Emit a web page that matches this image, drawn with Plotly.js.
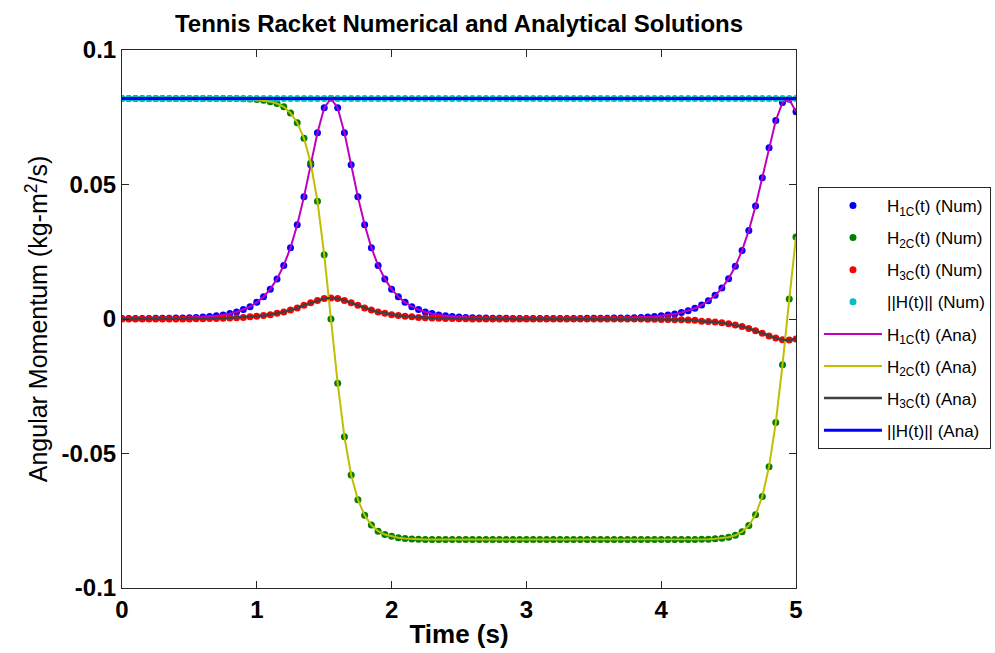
<!DOCTYPE html>
<html>
<head>
<meta charset="utf-8">
<script src="https://cdn.plot.ly/plotly-3.0.1.min.js"></script>
<style>html,body{margin:0;padding:0;background:#fff;}#chart{width:995px;height:653px;}</style>
</head>
<body>
<div id="chart"></div>
<script>
// Time samples (s)
const time = [0.00,0.05,0.10,0.15,0.20,0.25,0.30,0.35,0.40,0.45,
0.50,0.55,0.60,0.65,0.70,0.75,0.80,0.85,0.90,0.95,
1.00,1.05,1.10,1.15,1.20,1.25,1.30,1.35,1.40,1.45,
1.50,1.55,1.60,1.65,1.70,1.75,1.80,1.85,1.90,1.95,
2.00,2.05,2.10,2.15,2.20,2.25,2.30,2.35,2.40,2.45,
2.50,2.55,2.60,2.65,2.70,2.75,2.80,2.85,2.90,2.95,
3.00,3.05,3.10,3.15,3.20,3.25,3.30,3.35,3.40,3.45,
3.50,3.55,3.60,3.65,3.70,3.75,3.80,3.85,3.90,3.95,
4.00,4.05,4.10,4.15,4.20,4.25,4.30,4.35,4.40,4.45,
4.50,4.55,4.60,4.65,4.70,4.75,4.80,4.85,4.90,4.95,
5.00];

// H1C(t)
const h1 = [0.0002,0.0002,0.0002,0.0002,0.0002,0.0003,0.0003,0.0003,0.0004,0.0004,
0.0005,0.0006,0.0007,0.0009,0.0012,0.0015,0.0020,0.0026,0.0035,0.0046,
0.0062,0.0083,0.0111,0.0149,0.0199,0.0265,0.0350,0.0454,0.0573,0.0692,
0.0785,0.0820,0.0785,0.0692,0.0573,0.0454,0.0350,0.0265,0.0199,0.0149,
0.0111,0.0083,0.0062,0.0046,0.0035,0.0026,0.0020,0.0015,0.0012,0.0009,
0.0007,0.0006,0.0005,0.0004,0.0004,0.0003,0.0003,0.0003,0.0002,0.0002,
0.0002,0.0002,0.0002,0.0002,0.0002,0.0002,0.0002,0.0002,0.0002,0.0003,
0.0003,0.0003,0.0003,0.0004,0.0004,0.0004,0.0005,0.0006,0.0007,0.0009,
0.0012,0.0015,0.0019,0.0024,0.0031,0.0040,0.0052,0.0068,0.0088,0.0115,
0.0150,0.0196,0.0255,0.0329,0.0420,0.0525,0.0637,0.0738,0.0805,0.0817,
0.0770];

// H2C(t)
const h2 = [0.0820,0.0820,0.0820,0.0820,0.0820,0.0820,0.0820,0.0820,0.0820,0.0820,
0.0820,0.0820,0.0820,0.0820,0.0820,0.0820,0.0820,0.0820,0.0819,0.0818,
0.0816,0.0813,0.0808,0.0801,0.0789,0.0766,0.0730,0.0672,0.0580,0.0438,
0.0239,0.0000,-0.0239,-0.0438,-0.0580,-0.0672,-0.0730,-0.0766,-0.0789,-0.0801,
-0.0808,-0.0813,-0.0816,-0.0818,-0.0819,-0.0820,-0.0820,-0.0820,-0.0820,-0.0820,
-0.0820,-0.0820,-0.0820,-0.0820,-0.0820,-0.0820,-0.0820,-0.0820,-0.0820,-0.0820,
-0.0820,-0.0820,-0.0820,-0.0820,-0.0820,-0.0820,-0.0820,-0.0820,-0.0820,-0.0820,
-0.0820,-0.0820,-0.0820,-0.0820,-0.0820,-0.0820,-0.0820,-0.0820,-0.0820,-0.0820,
-0.0820,-0.0820,-0.0820,-0.0820,-0.0820,-0.0820,-0.0819,-0.0819,-0.0817,-0.0815,
-0.0811,-0.0804,-0.0791,-0.0768,-0.0728,-0.0660,-0.0549,-0.0385,-0.0170,0.0074,
0.0305];

// H3C(t)
const h3 = [0.0000,0.0000,0.0000,0.0000,0.0000,0.0000,0.0000,0.0000,0.0000,0.0000,
0.0000,0.0001,0.0001,0.0002,0.0002,0.0003,0.0004,0.0005,0.0006,0.0008,
0.0010,0.0013,0.0016,0.0021,0.0026,0.0033,0.0041,0.0051,0.0060,0.0069,
0.0076,0.0078,0.0076,0.0069,0.0060,0.0051,0.0041,0.0033,0.0026,0.0021,
0.0016,0.0013,0.0010,0.0008,0.0006,0.0005,0.0004,0.0003,0.0002,0.0002,
0.0001,0.0001,0.0000,0.0000,0.0000,0.0000,0.0000,0.0000,0.0000,0.0000,
0.0000,0.0000,0.0000,0.0000,0.0000,0.0000,0.0000,0.0000,0.0000,0.0000,
0.0000,0.0000,0.0000,0.0000,0.0000,0.0000,0.0000,0.0000,-0.0001,-0.0001,
-0.0002,-0.0002,-0.0003,-0.0003,-0.0004,-0.0005,-0.0008,-0.0009,-0.0011,-0.0014,
-0.0018,-0.0022,-0.0028,-0.0035,-0.0044,-0.0053,-0.0063,-0.0071,-0.0077,-0.0078,
-0.0074];

// ||H(t)||
const hNorm = [0.082,0.082,0.082,0.082,0.082,0.082,0.082,0.082,0.082,0.082,
0.082,0.082,0.082,0.082,0.082,0.082,0.082,0.082,0.082,0.082,
0.082,0.082,0.082,0.082,0.082,0.082,0.082,0.082,0.082,0.082,
0.082,0.082,0.082,0.082,0.082,0.082,0.082,0.082,0.082,0.082,
0.082,0.082,0.082,0.082,0.082,0.082,0.082,0.082,0.082,0.082,
0.082,0.082,0.082,0.082,0.082,0.082,0.082,0.082,0.082,0.082,
0.082,0.082,0.082,0.082,0.082,0.082,0.082,0.082,0.082,0.082,
0.082,0.082,0.082,0.082,0.082,0.082,0.082,0.082,0.082,0.082,
0.082,0.082,0.082,0.082,0.082,0.082,0.082,0.082,0.082,0.082,
0.082,0.082,0.082,0.082,0.082,0.082,0.082,0.082,0.082,0.082,
0.082];

const xTickVals = [0,1,2,3,4,5];
const xTickText = ["0","1","2","3","4","5"];
const yTickVals = [-0.1,-0.05,0,0.05,0.1];
const yTickText = ["-0.1","-0.05","0","0.05","0.1"];

const numNames = ["H<sub>1C</sub>(t) (Num)","H<sub>2C</sub>(t) (Num)","H<sub>3C</sub>(t) (Num)","||H(t)|| (Num)"];
const anaNames = ["H<sub>1C</sub>(t) (Ana)","H<sub>2C</sub>(t) (Ana)","H<sub>3C</sub>(t) (Ana)","||H(t)|| (Ana)"];
const numColors = ["#0000ff","#008000","#ff0000","#00bfbf"];
const anaColors = ["#bf00bf","#bfbf00","#404040","#0000ff"];
const anaWidths = [2,2,2.5,3];
const series = [h1,h2,h3,hNorm];

const traces = [];
series.forEach((s,i)=>{
  traces.push({x:time,y:s,type:'scatter',mode:'markers',name:numNames[i],legendgroup:'n'+i,
    marker:{color:numColors[i],size:7,symbol:'circle'}});
});
series.forEach((s,i)=>{
  traces.push({x:time,y:s,type:'scatter',mode:'lines',name:anaNames[i],legendgroup:'a'+i,
    line:{color:anaColors[i],width:anaWidths[i]}});
});

const axisColor = '#262626';
const FONT = 'Arial, "Liberation Sans", Helvetica, sans-serif';
const layout = {
  width:995,height:653,
  margin:{l:122,r:199,t:50,b:65,autoexpand:false},
  paper_bgcolor:'#ffffff',plot_bgcolor:'#ffffff',
  font:{family:FONT,color:'#000'},
  title:{text:'<b>Tennis Racket Numerical and Analytical Solutions</b>',font:{family:FONT,size:24,color:'#000'},
    xref:'paper',x:0.5,xanchor:'center',yref:'container',y:0.964,yanchor:'middle'},
  showlegend:true,
  legend:{x:1.0326,y:0.7454,xanchor:'left',yanchor:'top',bgcolor:'#ffffff',bordercolor:axisColor,borderwidth:1,
    font:{family:FONT,size:17,color:'#000'},itemwidth:58,tracegroupgap:7,traceorder:'grouped'},
  xaxis:{range:[0,5],tickvals:xTickVals,ticktext:xTickText,showline:true,mirror:'ticks',linecolor:axisColor,linewidth:1,
    ticks:'inside',ticklen:7,tickcolor:axisColor,showgrid:false,zeroline:false,
    tickfont:{family:FONT,size:24,weight:'bold',color:'#000'},
    title:{text:'<b>Time (s)</b>',font:{family:FONT,size:26,color:'#000'},standoff:3}},
  yaxis:{range:[-0.1,0.1],tickvals:yTickVals,ticktext:yTickText,showline:true,mirror:'ticks',linecolor:axisColor,linewidth:1,
    ticks:'inside',ticklen:7,tickcolor:axisColor,showgrid:false,zeroline:false,
    tickfont:{family:FONT,size:24,weight:'bold',color:'#000'},
    title:{text:'Angular Momentum (kg-m<sup>2</sup>/s)',font:{family:FONT,size:25,color:'#000'},standoff:6}}
};

Plotly.newPlot('chart',traces,layout,{displayModeBar:false,staticPlot:true});
</script>
</body>
</html>
